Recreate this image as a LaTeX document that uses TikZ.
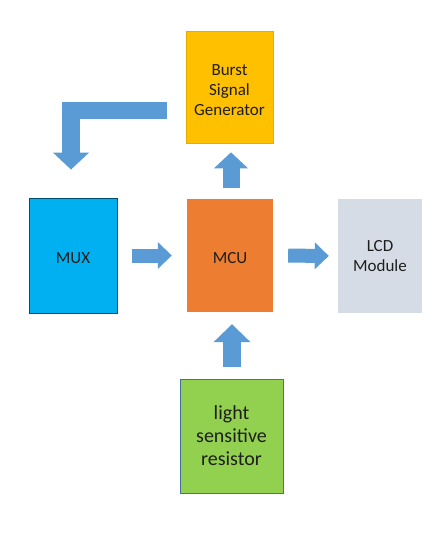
\documentclass[tikz,border=0pt]{standalone}
\usepackage{fontspec}
\setmainfont{Carlito}
\usetikzlibrary{arrows.meta}
\definecolor{burstc}{HTML}{FFC000}
\definecolor{muxc}{HTML}{00B0F0}
\definecolor{mcuc}{HTML}{ED7D31}
\definecolor{lcdc}{HTML}{D6DCE5}
\definecolor{lrsc}{HTML}{92D050}
\definecolor{lrsb}{HTML}{41719C}
\definecolor{arrc}{HTML}{5B9BD5}
\definecolor{txtc}{HTML}{1E1E1E}
\newcommand{\lowered}[2]{\raisebox{-#1}[0pt][0pt]{\begin{tabular}{@{}c@{}}#2\end{tabular}}}
\tikzset{
  block/.style={rectangle, inner sep=0pt, align=center, text=txtc,
    font=\fontsize{17pt}{20pt}\selectfont},
  blockarrow/.style={draw=arrc, line cap=butt, line join=miter},
}
\begin{document}
\begin{tikzpicture}[x=1pt,y=-1pt]
\useasboundingbox[fill=white] (0,0) rectangle (447,537);
\node[block, fill=burstc, draw=burstc!90!black, line width=0.6pt,
  minimum width=87pt, minimum height=112pt] (burst) at (229.5,87) {\lowered{9.25pt}{Burst\\Signal\\Generator}};
\node[block, fill=muxc, draw=muxc!45!black, line width=0.8pt,
  minimum width=88pt, minimum height=115pt] (mux) at (73,255.5) {\lowered{8.5pt}{MUX}};
\node[block, fill=mcuc, minimum width=86pt, minimum height=113pt] (mcu) at (230,255.5) {\lowered{8.5pt}{MCU}};
\node[block, fill=lcdc, minimum width=84pt, minimum height=114pt] (lcd) at (380,256) {LCD\\Module};
\node[block, fill=lrsc, draw=lrsb, line width=0.8pt, font=\fontsize{20pt}{23pt}\selectfont,
  minimum width=103pt, minimum height=114pt] (lrs) at (231.5,436) {light\\sensitive\\resistor};
% connectors
\draw[blockarrow, line width=14pt, -{Triangle[width=26pt,length=14pt]},
  shorten <=15pt, shorten >=15pt] (mux.east) -- (mcu.west);
\draw[blockarrow, line width=14pt, -{Triangle[width=26pt,length=14pt]},
  shorten <=15pt, shorten >=9pt] (mcu.east) -- (lcd.west);
\draw[blockarrow, line width=17pt, -{Triangle[width=33pt,length=16pt]},
  shorten <=11pt, shorten >=9pt] ([xshift=1pt]mcu.north) -- ([xshift=1.5pt]burst.south);
\draw[blockarrow, line width=18pt, -{Triangle[width=36pt,length=18pt]},
  shorten <=12pt, shorten >=12pt] ([xshift=0.5pt]lrs.north) -- ([xshift=2pt]mcu.south);
\draw[blockarrow, line width=17.5pt, -{Triangle[width=35pt,length=17pt]},
  shorten <=19pt, shorten >=28pt] ([yshift=-23.5pt]burst.west) -| ([xshift=-2pt]mux.north);
\end{tikzpicture}
\end{document}
